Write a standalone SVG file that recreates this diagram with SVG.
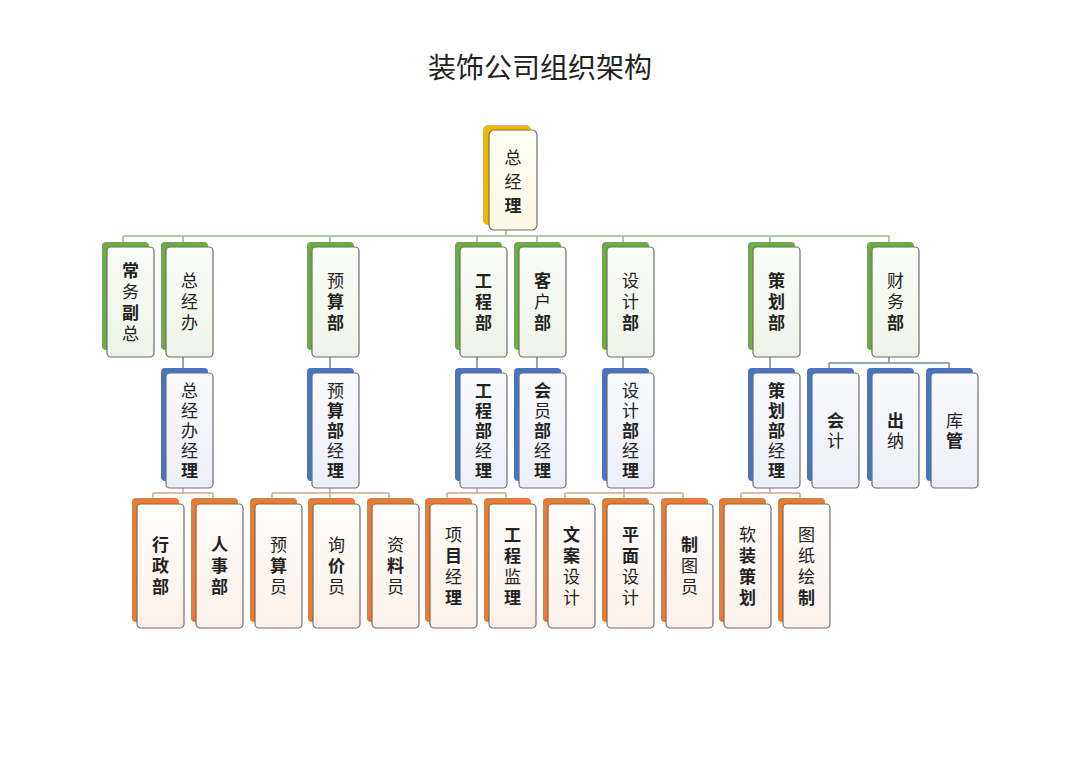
<svg xmlns="http://www.w3.org/2000/svg" width="1080" height="763" viewBox="0 0 1080 763">
<style>
.bk{stroke:none}
.by{fill:#f2b705}.bg{fill:#6fab45}.bb{fill:#4a74bf}.bo{fill:#e97c33}
.fr{stroke:#6e6e6e;stroke-width:1.2}
.fy{fill:url(#gy)}.fg{fill:url(#gg)}.fb{fill:url(#gb)}.fo{fill:url(#go)}
.t{font-family:"Noto Sans CJK SC","Noto Sans",sans-serif;font-size:17px;fill:#222;text-anchor:middle;writing-mode:vertical-rl}
.l0{letter-spacing:7px}.l1{letter-spacing:4px}.l2{letter-spacing:3px}.l3{letter-spacing:4px}
.b{font-weight:bold}
.cg{stroke:#97bb80;stroke-width:1.5;fill:none}
.cb{stroke:#6f8aa8;stroke-width:1.5;fill:none}
.co{stroke:#cfa888;stroke-width:1.5;fill:none}
.title{font-family:"Noto Sans CJK SC","Noto Sans",sans-serif;font-size:28px;fill:#222;text-anchor:middle}
</style>
<defs>
<linearGradient id="gy" x1="0" y1="0" x2="0" y2="1"><stop offset="0" stop-color="#fffef6"/><stop offset="1" stop-color="#fbf8e4"/></linearGradient>
<linearGradient id="gg" x1="0" y1="0" x2="0" y2="1"><stop offset="0" stop-color="#fafcf8"/><stop offset="1" stop-color="#eef4e9"/></linearGradient>
<linearGradient id="gb" x1="0" y1="0" x2="0" y2="1"><stop offset="0" stop-color="#f9fafd"/><stop offset="1" stop-color="#eceff7"/></linearGradient>
<linearGradient id="go" x1="0" y1="0" x2="0" y2="1"><stop offset="0" stop-color="#fffcfa"/><stop offset="1" stop-color="#fbf1ea"/></linearGradient>
</defs>
<rect width="1080" height="763" fill="#ffffff"/>
<text class="title" x="540" y="78">装饰公司组织架构</text>

<g id="connectors">
<path class="cg" d="M506,230V236M123,236H889M123,236V242M183,236V242M330,236V242M477,236V242M537,236V242M623,236V242M770,236V242M889,236V242"/>
<path class="cb" d="M183,357V368M330,357V368M477,357V368M537,357V368M623,357V368M770,357V368M889,357V363M829,363H949M829,363V368M949,363V368"/>
<path class="co" d="M183,488V493M153,493H213M153,493V498M213,493V498
M330,488V493M272,493H389M272,493V498M330,493V498M389,493V498
M477,488V493M447,493H506M447,493V498M506,493V498
M624,488V493M565,493H683M565,493V498M624,493V498M683,493V498
M770,488V493M741,493H800M741,493V498M800,493V498"/>
</g>

<g id="n-zongjingli">
<rect class="bk by" x="483" y="125" width="48" height="100" rx="5"/>
<rect class="fr fy" x="489" y="130" width="48" height="100" rx="5"/>
<text class="t l0" x="513" y="185.5">总经<tspan class="b">理</tspan></text>
</g>

<!-- Level 1 -->
<g id="n-changwufuzong">
<rect class="bk bg" x="102" y="242" width="47" height="108" rx="4"/>
<rect class="fr fg" x="107" y="247" width="47" height="110" rx="4"/>
<text class="t l1" x="130.5" y="304"><tspan class="b">常</tspan>务<tspan class="b">副</tspan>总</text>
</g>
<g id="n-zongjingban">
<rect class="bk bg" x="161" y="242" width="47" height="108" rx="4"/>
<rect class="fr fg" x="166" y="247" width="47" height="110" rx="4"/>
<text class="t l1" x="189.5" y="304">总经办</text>
</g>
<g id="n-yusuanbu">
<rect class="bk bg" x="307" y="242" width="47" height="108" rx="4"/>
<rect class="fr fg" x="312" y="247" width="47" height="110" rx="4"/>
<text class="t l1" x="335.5" y="304">预<tspan class="b">算部</tspan></text>
</g>
<g id="n-gongchengbu">
<rect class="bk bg" x="455" y="242" width="47" height="108" rx="4"/>
<rect class="fr fg" x="460" y="247" width="47" height="110" rx="4"/>
<text class="t l1 b" x="483.5" y="304">工程部</text>
</g>
<g id="n-kehubu">
<rect class="bk bg" x="514" y="242" width="47" height="108" rx="4"/>
<rect class="fr fg" x="519" y="247" width="47" height="110" rx="4"/>
<text class="t l1" x="542.5" y="304"><tspan class="b">客</tspan>户<tspan class="b">部</tspan></text>
</g>
<g id="n-shejibu">
<rect class="bk bg" x="602" y="242" width="47" height="108" rx="4"/>
<rect class="fr fg" x="607" y="247" width="47" height="110" rx="4"/>
<text class="t l1" x="630.5" y="304">设计<tspan class="b">部</tspan></text>
</g>
<g id="n-cehuabu">
<rect class="bk bg" x="748" y="242" width="47" height="108" rx="4"/>
<rect class="fr fg" x="753" y="247" width="47" height="110" rx="4"/>
<text class="t l1 b" x="776.5" y="304">策划部</text>
</g>
<g id="n-caiwubu">
<rect class="bk bg" x="867" y="242" width="47" height="108" rx="4"/>
<rect class="fr fg" x="872" y="247" width="47" height="110" rx="4"/>
<text class="t l1" x="895.5" y="304">财务<tspan class="b">部</tspan></text>
</g>

<!-- Level 2 -->
<g id="n-zongjingbanjingli">
<rect class="bk bb" x="161" y="368" width="47" height="113" rx="4"/>
<rect class="fr fb" x="166" y="373" width="47" height="115" rx="4"/>
<text class="t l2" x="189.5" y="432">总经办经<tspan class="b">理</tspan></text>
</g>
<g id="n-yusuanbujingli">
<rect class="bk bb" x="307" y="368" width="47" height="113" rx="4"/>
<rect class="fr fb" x="312" y="373" width="47" height="115" rx="4"/>
<text class="t l2" x="335.5" y="432">预<tspan class="b">算部</tspan>经<tspan class="b">理</tspan></text>
</g>
<g id="n-gongchengbujingli">
<rect class="bk bb" x="455" y="368" width="47" height="113" rx="4"/>
<rect class="fr fb" x="460" y="373" width="47" height="115" rx="4"/>
<text class="t l2" x="483.5" y="432"><tspan class="b">工程部</tspan>经<tspan class="b">理</tspan></text>
</g>
<g id="n-huiyuanbujingli">
<rect class="bk bb" x="514" y="368" width="47" height="113" rx="4"/>
<rect class="fr fb" x="519" y="373" width="47" height="115" rx="4"/>
<text class="t l2" x="542.5" y="432"><tspan class="b">会</tspan>员<tspan class="b">部</tspan>经<tspan class="b">理</tspan></text>
</g>
<g id="n-shejibujingli">
<rect class="bk bb" x="602" y="368" width="47" height="113" rx="4"/>
<rect class="fr fb" x="607" y="373" width="47" height="115" rx="4"/>
<text class="t l2" x="630.5" y="432">设计<tspan class="b">部</tspan>经<tspan class="b">理</tspan></text>
</g>
<g id="n-cehuabujingli">
<rect class="bk bb" x="748" y="368" width="47" height="113" rx="4"/>
<rect class="fr fb" x="753" y="373" width="47" height="115" rx="4"/>
<text class="t l2" x="776.5" y="432"><tspan class="b">策划部</tspan>经<tspan class="b">理</tspan></text>
</g>
<g id="n-kuaiji">
<rect class="bk bb" x="807" y="368" width="47" height="113" rx="4"/>
<rect class="fr fb" x="812" y="373" width="47" height="115" rx="4"/>
<text class="t l2" x="835.5" y="432"><tspan class="b">会</tspan>计</text>
</g>
<g id="n-chuna">
<rect class="bk bb" x="867" y="368" width="47" height="113" rx="4"/>
<rect class="fr fb" x="872" y="373" width="47" height="115" rx="4"/>
<text class="t l2" x="895.5" y="432"><tspan class="b">出</tspan>纳</text>
</g>
<g id="n-kuguan">
<rect class="bk bb" x="926" y="368" width="47" height="113" rx="4"/>
<rect class="fr fb" x="931" y="373" width="47" height="115" rx="4"/>
<text class="t l2" x="954.5" y="432">库<tspan class="b">管</tspan></text>
</g>

<!-- Level 3 -->
<g id="n-xingzhengbu">
<rect class="bk bo" x="132" y="498" width="47" height="124" rx="4"/>
<rect class="fr fo" x="137" y="504" width="47" height="124" rx="4"/>
<text class="t l3 b" x="160.5" y="568">行政部</text>
</g>
<g id="n-renshibu">
<rect class="bk bo" x="191" y="498" width="47" height="124" rx="4"/>
<rect class="fr fo" x="196" y="504" width="47" height="124" rx="4"/>
<text class="t l3 b" x="219.5" y="568">人事部</text>
</g>
<g id="n-yusuanyuan">
<rect class="bk bo" x="250" y="498" width="47" height="124" rx="4"/>
<rect class="fr fo" x="255" y="504" width="47" height="124" rx="4"/>
<text class="t l3" x="278.5" y="568">预<tspan class="b">算</tspan>员</text>
</g>
<g id="n-xunjiayuan">
<rect class="bk bo" x="308" y="498" width="47" height="124" rx="4"/>
<rect class="fr fo" x="313" y="504" width="47" height="124" rx="4"/>
<text class="t l3" x="336.5" y="568">询<tspan class="b">价</tspan>员</text>
</g>
<g id="n-ziliaoyuan">
<rect class="bk bo" x="367" y="498" width="47" height="124" rx="4"/>
<rect class="fr fo" x="372" y="504" width="47" height="124" rx="4"/>
<text class="t l3" x="395.5" y="568">资<tspan class="b">料</tspan>员</text>
</g>
<g id="n-xiangmujingli">
<rect class="bk bo" x="425" y="498" width="47" height="124" rx="4"/>
<rect class="fr fo" x="430" y="504" width="47" height="124" rx="4"/>
<text class="t l3" x="453.5" y="568">项<tspan class="b">目</tspan>经<tspan class="b">理</tspan></text>
</g>
<g id="n-gongchengjianli">
<rect class="bk bo" x="484" y="498" width="47" height="124" rx="4"/>
<rect class="fr fo" x="489" y="504" width="47" height="124" rx="4"/>
<text class="t l3" x="512.5" y="568"><tspan class="b">工程</tspan>监<tspan class="b">理</tspan></text>
</g>
<g id="n-wenansheji">
<rect class="bk bo" x="543" y="498" width="47" height="124" rx="4"/>
<rect class="fr fo" x="548" y="504" width="47" height="124" rx="4"/>
<text class="t l3" x="571.5" y="568"><tspan class="b">文案</tspan>设计</text>
</g>
<g id="n-pingmiansheji">
<rect class="bk bo" x="602" y="498" width="47" height="124" rx="4"/>
<rect class="fr fo" x="607" y="504" width="47" height="124" rx="4"/>
<text class="t l3" x="630.5" y="568"><tspan class="b">平面</tspan>设计</text>
</g>
<g id="n-zhituyuan">
<rect class="bk bo" x="661" y="498" width="47" height="124" rx="4"/>
<rect class="fr fo" x="666" y="504" width="47" height="124" rx="4"/>
<text class="t l3" x="689.5" y="568"><tspan class="b">制</tspan>图员</text>
</g>
<g id="n-ruanzhuangcehua">
<rect class="bk bo" x="719" y="498" width="47" height="124" rx="4"/>
<rect class="fr fo" x="724" y="504" width="47" height="124" rx="4"/>
<text class="t l3" x="747.5" y="568">软<tspan class="b">装策划</tspan></text>
</g>
<g id="n-tuzhihuizhi">
<rect class="bk bo" x="778" y="498" width="47" height="124" rx="4"/>
<rect class="fr fo" x="783" y="504" width="47" height="124" rx="4"/>
<text class="t l3" x="806.5" y="568">图纸绘<tspan class="b">制</tspan></text>
</g>
</svg>
